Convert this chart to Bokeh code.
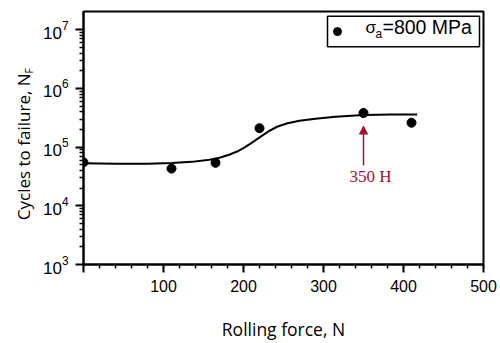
import numpy as np
from bokeh.plotting import figure
from bokeh.layouts import row
from bokeh.core.properties import value
from bokeh.models import Range1d, Label, Arrow, NormalHead, BoxAnnotation, FixedTicker
from bokeh.embed import file_html
from bokeh.resources import INLINE

# ---- data ----
force = [0, 110, 165, 220, 350, 410]
cycles = [5.5e4, 4.3e4, 5.4e4, 2.1e5, 3.8e5, 2.6e5]

fit_force = [0, 40, 80, 110, 135, 155, 170, 182, 192, 202, 212, 222, 232, 242,
             255, 270, 290, 315, 350, 385, 417]
fit_cycles = [5.3e4, 5.2e4, 5.2e4, 5.35e4, 5.6e4, 6.0e4, 6.6e4, 7.4e4, 8.4e4, 1.0e5,
              1.23e5, 1.52e5, 1.88e5, 2.22e5, 2.55e5, 2.8e5, 3.05e5, 3.3e5, 3.52e5,
              3.6e5, 3.6e5]

x_ticks = [0, 100, 200, 300, 400, 500]
x_minor = list(range(0, 501, 20))
y_ticks = [1e3, 1e4, 1e5, 1e6, 1e7]
y_minor = [k * 10.0 ** e for e in range(3, 7) for k in range(2, 10)]

y_title = "Cycles to failure, N"
y_title_sub = "F"
x_title = "Rolling force, N"
legend_label = "=800 MPa"
marked_force = 350
marked_text = "350 H"

RED = "#a3122e"
H = 343
TITLE_W = 38

# page-pixel helpers for annotation placement in the main plot
def px(u):
    return (u - 83) / 0.8

def py(v):
    return 10 ** (3 + (276 - v) / 61.5)

# ---- narrow panel holding the rotated y title (with subscript) ----
t = figure(width=TITLE_W, height=H, x_range=Range1d(0, TITLE_W), y_range=Range1d(0, H),
           x_axis_location=None, y_axis_location=None, output_backend="svg",
           toolbar_location=None, min_border=0, outline_line_color=None)
t.xgrid.visible = False
t.ygrid.visible = False
t.text(x=[23], y=[H - 84], text=[y_title], angle=np.pi / 2, text_align="right",
       text_baseline="middle", text_font=value("Open Sans"),
       text_font_size="17px", text_color="black")
t.text(x=[28.5], y=[H - 84], text=[y_title_sub], angle=np.pi / 2, text_align="left",
       text_baseline="middle", text_font=value("Open Sans"),
       text_font_size="10px", text_color="black")

# ---- main plot ----
p = figure(width=500 - TITLE_W, height=H, x_range=Range1d(0, 500),
           y_range=Range1d(1e3, 2.04e7), y_axis_type="log", output_backend="svg",
           toolbar_location=None, min_border_left=83 - TITLE_W, min_border_right=17,
           min_border_top=11, min_border_bottom=67)
p.xgrid.visible = False
p.ygrid.visible = False
p.outline_line_color = "black"
p.outline_line_width = 2
p.outline_line_alpha = 1
p.background_fill_color = "white"
p.border_fill_color = "white"

p.xaxis.ticker = FixedTicker(ticks=x_ticks, minor_ticks=x_minor)
p.xaxis.major_label_overrides = {0: ""}
p.yaxis.ticker = FixedTicker(ticks=y_ticks, minor_ticks=y_minor)

for ax in (p.xaxis[0], p.yaxis[0]):
    ax.axis_line_color = "black"
    ax.axis_line_width = 2
    ax.major_tick_line_color = "black"
    ax.minor_tick_line_color = "black"
    ax.major_tick_line_width = 2
    ax.minor_tick_line_width = 1.5
    ax.major_tick_in = 0
    ax.major_tick_out = 8
    ax.minor_tick_in = 0
    ax.minor_tick_out = 4
    ax.major_label_text_font = "Liberation Sans"
    ax.major_label_text_color = "black"

p.xaxis.major_label_text_font_size = "16px"
p.yaxis.major_label_text_font_size = "17px"
p.xaxis.major_label_standoff = 7
p.yaxis.major_label_standoff = 7

p.xaxis.axis_label = x_title
p.xaxis.axis_label_text_font = "Open Sans"
p.xaxis.axis_label_text_font_size = "17.5px"
p.xaxis.axis_label_text_font_style = "normal"
p.xaxis.axis_label_text_color = "black"
p.xaxis.axis_label_standoff = 22

# data
p.line(fit_force, fit_cycles, line_width=2, line_color="black")
p.scatter(force, cycles, size=9, fill_color="black", line_color="black")

# legend
p.add_layout(BoxAnnotation(left=px(327), right=px(479), bottom=py(48), top=py(16),
                           fill_color="white", fill_alpha=1, line_color="black",
                           line_width=1.5, line_alpha=1, level="underlay"))
p.scatter([px(337)], [py(32)], size=8, fill_color="black", line_color="black")
p.add_layout(Label(x=px(365), y=py(38), text="σ", text_font="Liberation Sans",
                   text_font_size="17px", text_color="black"))
p.add_layout(Label(x=px(375), y=py(42), text="a", text_font="Liberation Sans",
                   text_font_size="12px", text_color="black"))
p.add_layout(Label(x=px(382), y=py(38.5), text=legend_label, text_font="Liberation Sans",
                   text_font_size="19.5px", text_color="black"))

# arrow + note
p.add_layout(Arrow(end=NormalHead(size=8, fill_color=RED, line_color=RED),
                   x_start=marked_force, y_start=py(172), x_end=marked_force, y_end=py(131),
                   line_color=RED, line_width=1.5))
p.add_layout(Label(x=px(349), y=py(194), text=marked_text, text_font="Liberation Serif",
                   text_font_size="17px", text_color=RED))

layout = row(t, p, spacing=0)
open("out.html", "w").write(file_html(layout, INLINE))
